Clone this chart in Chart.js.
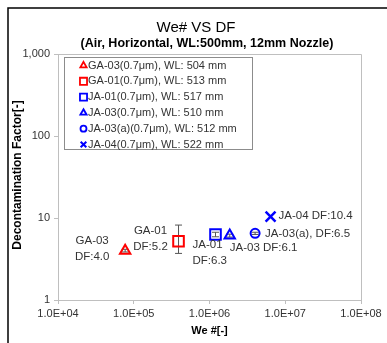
<!DOCTYPE html>
<html>
<head>
<meta charset="utf-8">
<script src="https://cdn.jsdelivr.net/npm/chart.js@4/dist/chart.umd.min.js"></script>
<style>
  html, body { margin: 0; padding: 0; background: #fff; }
  canvas { display: block; }
</style>
</head>
<body>
<canvas id="chart" width="387" height="343"></canvas>
<script>
// data
const seriesNames = [
    'GA-03(0.7\u03bcm), WL: 504 mm',
    'GA-01(0.7\u03bcm), WL: 513 mm',
    'JA-01(0.7\u03bcm), WL: 517 mm',
    'JA-03(0.7\u03bcm), WL: 510 mm',
    'JA-03(a)(0.7\u03bcm), WL: 512 mm',
    'JA-04(0.7\u03bcm), WL: 522 mm'
];
const weNumbers = [7.7e4, 3.9e5, 1.2e6, 1.85e6, 4.0e6, 6.4e6];
const dfValues = [4.0, 5.2, 6.3, 6.1, 6.5, 10.4];
const dfLow = [3.85, 3.7, 5.9, 5.85, 6.3, null];
const dfHigh = [4.15, 8.2, 6.7, 6.35, 6.7, null];
const pointLabels = [
    ['GA-03', 'DF:4.0'],
    ['GA-01', 'DF:5.2'],
    ['JA-01', 'DF:6.3'],
    ['JA-03 DF:6.1'],
    ['JA-03(a), DF:6.5'],
    ['JA-04 DF:10.4']
];
const xTicks = [1e4, 1e5, 1e6, 1e7, 1e8];
const yTicks = [1, 10, 100, 1000];

// styles
const RED = '#ff0000';
const BLUE = '#0000ff';
const colors = [RED, RED, BLUE, BLUE, BLUE, BLUE];
const pointStyles = ['triangle', 'rect', 'rect', 'triangle', 'circle', 'crossRot'];
const radii = [6, 7.5, 7.5, 6, 4.5, 7];
const legendRadii = [3.6, 5, 5, 3.6, 3, 4];
// label placement relative to the point: [dx, dy, align]
const labelOffsets = [
    [-33, -10, 'center'],
    [-28, -10, 'center'],
    [-23, 10, 'left'],
    [0, 12, 'left'],
    [10, 0, 'left'],
    [8, -1, 'left']
];

const FONT = '"Liberation Sans", Arial, sans-serif';
const TEXT = '#333333';
const AXIS = '#bfbfbf';

function sciLabel(v) {
    const [m, e] = v.toExponential(1).split('e');
    return m + 'E+' + String(Math.abs(+e)).padStart(2, '0');
}

const decor = {
    id: 'decor',
    beforeDraw(chart) {
        const ctx = chart.ctx;
        ctx.save();
        ctx.fillStyle = '#fff';
        ctx.fillRect(0, 0, chart.width, chart.height);
        // outer frame (left + top)
        ctx.strokeStyle = '#000';
        ctx.lineWidth = 1.5;
        ctx.beginPath();
        ctx.moveTo(8, chart.height);
        ctx.lineTo(8, 8);
        ctx.lineTo(chart.width, 8);
        ctx.stroke();
        ctx.restore();
    },
    beforeDatasetsDraw(chart) {
        const ctx = chart.ctx;
        const a = chart.chartArea;
        const xs = chart.scales.x, ys = chart.scales.y;
        ctx.save();
        // plot box top + right
        ctx.strokeStyle = AXIS;
        ctx.lineWidth = 1;
        ctx.beginPath();
        ctx.moveTo(a.left, a.top + 0.5);
        ctx.lineTo(a.right + 0.5, a.top + 0.5);
        ctx.lineTo(a.right + 0.5, a.bottom);
        ctx.stroke();
        // error bars
        ctx.strokeStyle = '#555';
        ctx.lineWidth = 1;
        weNumbers.forEach((w, i) => {
            if (dfLow[i] == null) return;
            const x = xs.getPixelForValue(w);
            const y1 = ys.getPixelForValue(dfLow[i]);
            const y2 = ys.getPixelForValue(dfHigh[i]);
            ctx.beginPath();
            ctx.moveTo(x, y1); ctx.lineTo(x, y2);
            ctx.moveTo(x - 3.5, y1); ctx.lineTo(x + 3.5, y1);
            ctx.moveTo(x - 3.5, y2); ctx.lineTo(x + 3.5, y2);
            ctx.stroke();
        });
        ctx.restore();
    },
    afterDraw(chart) {
        const ctx = chart.ctx;
        const xs = chart.scales.x, ys = chart.scales.y;
        ctx.save();
        ctx.fillStyle = '#000';
        ctx.textAlign = 'center';
        ctx.textBaseline = 'middle';
        ctx.font = '15px ' + FONT;
        ctx.fillText('We# VS DF', 196, 28);
        ctx.font = 'bold 12.5px ' + FONT;
        ctx.fillText('(Air, Horizontal, WL:500mm, 12mm Nozzle)', 207, 44);

        // axis titles
        ctx.font = 'bold 11px ' + FONT;
        ctx.fillText('We #[-]', (chart.chartArea.left + chart.chartArea.right) / 2, 331);
        ctx.save();
        ctx.translate(18, 175);
        ctx.rotate(-Math.PI / 2);
        ctx.font = 'bold 12px ' + FONT;
        ctx.fillText('Decontamination Factor[-]', 0, 0);
        ctx.restore();

        // point labels
        ctx.fillStyle = TEXT;
        ctx.font = '11.5px ' + FONT;
        pointLabels.forEach((lines, i) => {
            const x = xs.getPixelForValue(weNumbers[i]);
            const y = ys.getPixelForValue(dfValues[i]);
            const [dx, dy, align] = labelOffsets[i];
            ctx.textAlign = align;
            lines.forEach((t, k) => ctx.fillText(t, x + dx, y + dy + k * 16));
        });

        // legend
        ctx.strokeStyle = '#8c8c8c';
        ctx.lineWidth = 1;
        ctx.strokeRect(64.5, 57.5, 188, 92);
        ctx.textAlign = 'left';
        ctx.font = '11px ' + FONT;
        seriesNames.forEach((name, i) => {
            const y = 65.5 + i * 15.8;
            ctx.strokeStyle = colors[i];
            ctx.fillStyle = '#fff';
            ctx.lineWidth = i === 5 ? 2 : 1.8;
            Chart.helpers.drawPoint(ctx, {
                pointStyle: pointStyles[i], radius: legendRadii[i],
                rotation: 0, borderWidth: 1.8
            }, 83.5, y);
            ctx.fillStyle = TEXT;
            ctx.fillText(name, 88, y);
        });
        ctx.restore();
    }
};

const datasets = seriesNames.map((name, i) => ({
    label: name,
    data: [{ x: weNumbers[i], y: dfValues[i] }],
    pointStyle: pointStyles[i],
    pointRadius: radii[i],
    pointHoverRadius: radii[i],
    pointBorderWidth: i === 5 ? 2.5 : 2,
    borderColor: colors[i],
    backgroundColor: 'rgba(255,255,255,0)'
}));

new Chart(document.getElementById('chart'), {
    type: 'scatter',
    data: { datasets },
    options: {
        responsive: false,
        animation: false,
        layout: { padding: { left: 0, right: 26, top: 54, bottom: 0 } },
        plugins: {
            legend: { display: false },
            tooltip: { enabled: false }
        },
        scales: {
            x: {
                type: 'logarithmic',
                min: 1e4,
                max: 1e8,
                afterBuildTicks: s => { s.ticks = xTicks.map(v => ({ value: v })); },
                afterFit: s => { s.height = 43; },
                grid: { drawOnChartArea: false, tickLength: 4, color: AXIS },
                border: { color: AXIS },
                ticks: {
                    padding: 3, color: TEXT, maxRotation: 0,
                    font: { family: FONT, size: 11 },
                    callback: v => sciLabel(v)
                }
            },
            y: {
                type: 'logarithmic',
                min: 1,
                max: 1000,
                afterBuildTicks: s => { s.ticks = yTicks.map(v => ({ value: v })); },
                afterFit: s => { s.width = 58; },
                grid: { drawOnChartArea: false, tickLength: 4, color: AXIS },
                border: { color: AXIS },
                ticks: {
                    padding: 4, color: TEXT,
                    font: { family: FONT, size: 11 },
                    callback: v => v.toLocaleString('en-US')
                }
            }
        }
    },
    plugins: [decor]
});
</script>
</body>
</html>
